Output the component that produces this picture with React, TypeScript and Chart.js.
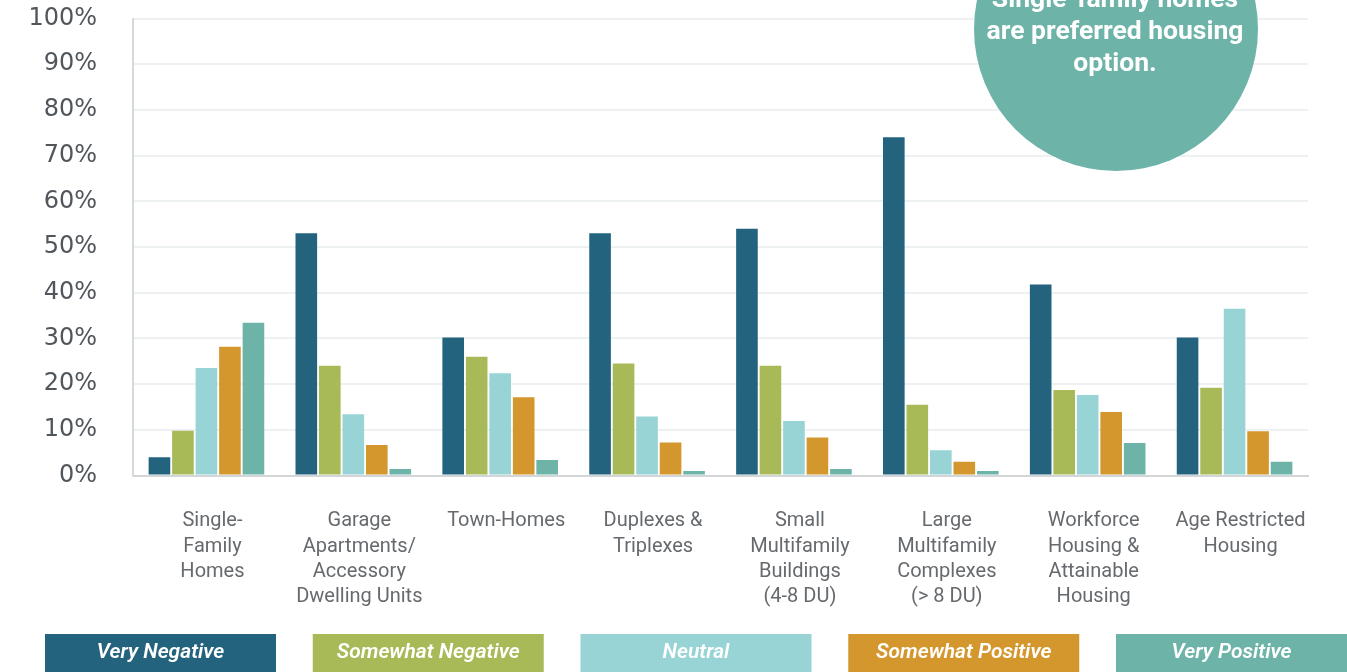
import React, { useEffect, useRef } from "react";
import { Chart, registerables } from "chart.js";

Chart.register(...registerables);

const categories: string[][] = [
  ["Single-", "Family", "Homes"],
  ["Garage", "Apartments/", "Accessory", "Dwelling Units"],
  ["Town-Homes"],
  ["Duplexes &", "Triplexes"],
  ["Small", "Multifamily", "Buildings", "(4-8 DU)"],
  ["Large", "Multifamily", "Complexes", "(> 8 DU)"],
  ["Workforce", "Housing &", "Attainable", "Housing"],
  ["Age Restricted", "Housing"],
];

const veryNegative = [4, 53, 30.2, 53, 54, 74, 41.8, 30.2];
const somewhatNegative = [9.8, 24, 26, 24.5, 24, 15.5, 18.7, 19.2];
const neutral = [23.5, 13.4, 22.4, 12.9, 11.9, 5.5, 17.6, 36.5];
const somewhatPositive = [28.2, 6.7, 17.1, 7.2, 8.3, 3.0, 13.9, 9.7];
const veryPositive = [33.4, 1.4, 3.4, 1.0, 1.4, 1.0, 7.1, 3.0];

const seriesNames = ["Very Negative", "Somewhat Negative", "Neutral", "Somewhat Positive", "Very Positive"];
const seriesColors = ["#23637d", "#a8ba58", "#98d3d6", "#d4972e", "#6db3a8"];

const calloutLines = ["Single-family homes", "are preferred housing", "option."];
const yTicks = [0, 10, 20, 30, 40, 50, 60, 70, 80, 90, 100];

const W = 1347;
const H = 672;

const legendPlugin = {
  id: "boxLegend",
  afterDraw(chart: any) {
    const ctx = chart.ctx;
    const ds = chart.data.datasets;
    const boxW = 231;
    const pitch = (W - 45 - boxW) / (ds.length - 1);
    ctx.save();
    ds.forEach((d: any, i: number) => {
      const x = 45 + i * pitch;
      ctx.fillStyle = d.backgroundColor;
      ctx.fillRect(x, 634, boxW, 40);
      ctx.fillStyle = "#ffffff";
      ctx.font = "italic 600 21px Roboto";
      ctx.textAlign = "center";
      ctx.textBaseline = "middle";
      ctx.fillText(d.label, x + boxW / 2, 653);
    });
    ctx.restore();
  },
};

const calloutPlugin = {
  id: "callout",
  afterDraw(chart: any) {
    const ctx = chart.ctx;
    ctx.save();
    ctx.fillStyle = "#6db3a8";
    ctx.beginPath();
    ctx.arc(1116, 29, 142, 0, Math.PI * 2);
    ctx.fill();
    ctx.fillStyle = "#ffffff";
    ctx.font = "bold 26.5px Roboto";
    ctx.textAlign = "center";
    ctx.textBaseline = "middle";
    calloutLines.forEach((t, i) => ctx.fillText(t, 1115, 0 + i * 32));
    ctx.restore();
  },
};

export default function App() {
  const ref = useRef<HTMLCanvasElement | null>(null);
  useEffect(() => {
    if (!ref.current) return;
    const series = [veryNegative, somewhatNegative, neutral, somewhatPositive, veryPositive];
    const chart = new Chart(ref.current, {
      type: "bar",
      data: {
        labels: categories,
        datasets: series.map((s, i) => ({
          label: seriesNames[i],
          data: s,
          backgroundColor: seriesColors[i],
          borderWidth: 0,
          categoryPercentage: 0.8,
          barPercentage: 0.92,
        })),
      },
      options: {
        responsive: false,
        animation: false,
        layout: { padding: { top: 18.5, right: 39, left: 0, bottom: 0 } },
        plugins: { legend: { display: false }, tooltip: { enabled: false } },
        scales: {
          x: {
            grid: { display: false, drawTicks: false },
            border: { display: true, color: "#d3d6d8", width: 2 },
            ticks: {
              padding: 33,
              labelOffset: 6,
              color: "#666a6e",
              font: { family: "Roboto", size: 20, lineHeight: 1.27 },
              maxRotation: 0,
              autoSkip: false,
            },
            afterFit: (s: any) => {
              s.height = H - 475.5;
              s.paddingLeft = 0;
              s.paddingRight = 0;
            },
          },
          y: {
            min: 0,
            max: 100,
            afterBuildTicks: (s: any) => {
              s.ticks = yTicks.map((v) => ({ value: v }));
            },
            grid: { color: "#eef1f1", lineWidth: 2, drawTicks: false },
            border: { display: true, color: "#d6d9db", width: 2 },
            ticks: {
              padding: 36,
              color: "#50565c",
              font: { family: "DejaVu Sans", size: 24 },
              callback: (v: any) => v + "%",
            },
            afterFit: (s: any) => {
              s.width = 133;
              s.paddingTop = 0;
              s.paddingBottom = 0;
            },
          },
        },
      },
      plugins: [legendPlugin, calloutPlugin],
    });
    return () => chart.destroy();
  }, []);
  return (
    <div style={{ position: "fixed", left: 0, top: 0, width: W, height: H, background: "#fff" }}>
      <canvas ref={ref} width={W} height={H} style={{ display: "block" }} />
    </div>
  );
}
